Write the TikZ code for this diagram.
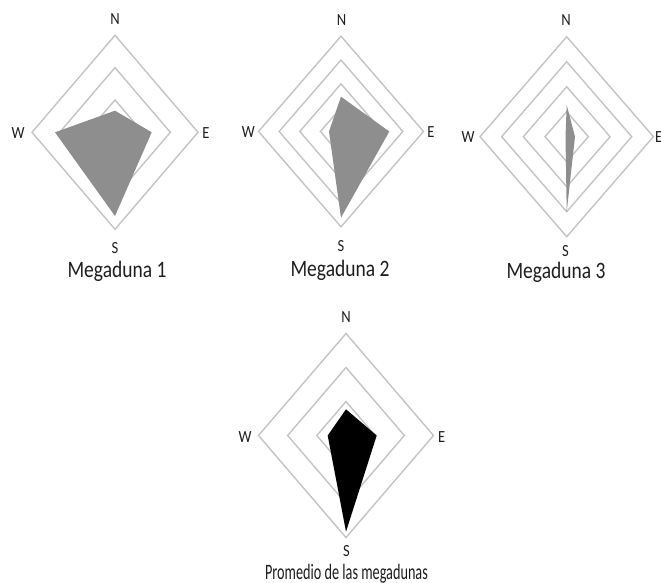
\documentclass[tikz,border=0pt]{standalone}
\usepackage{fontspec}
\setmainfont{Carlito}
\definecolor{ringgray}{HTML}{C4C4C4}
\definecolor{areagray}{HTML}{8E8E8E}
\definecolor{txtgray}{HTML}{1E1E1E}
\tikzset{
  ring/.style={draw=ringgray, line width=1.4pt, line join=miter},
  area/.style={fill=areagray},
  darea/.style={fill=black},
  dirlabel/.style={font=\fontsize{17}{19}\selectfont, text=txtgray, xscale=0.855, inner sep=0pt},
  charttitle/.style={font=\fontsize{23.5}{27}\selectfont, text=txtgray, xscale=0.83, inner sep=0pt, anchor=base}
}
\begin{document}
\begin{tikzpicture}[x=1pt,y=-1pt]
\clip (0,0) rectangle (661,583);
\fill[white] (0,0) rectangle (661,583);

% ---- Chart 1 ----
\foreach \f in {0.3333,0.6667,1}
  \draw[ring] (115,{132.3-97*\f}) -- ({115+83*\f},132.3) -- (115,{132.3+97*\f}) -- ({115-83*\f},132.3) -- cycle;
\fill[area] (115,110.7) -- (151.7,132.3) -- (115,216) -- (55,132.3) -- cycle;
\node[dirlabel] (n1) at (115,19) {N};
\node[dirlabel] (e1) at (206,133) {E};
\node[dirlabel] (s1) at (115,248) {S};
\node[dirlabel] (w1) at (18,133) {W};
\node[charttitle] (t1) at (117,277) {Megaduna 1};

% ---- Chart 2 ----
\foreach \f in {0.25,0.5,0.75,1}
  \draw[ring] (341,{131.5-95.3*\f}) -- ({341+82.5*\f},131.5) -- (341,{131.5+95.3*\f}) -- ({341-82.5*\f},131.5) -- cycle;
\fill[area] (341,96.7) -- (389.3,131.5) -- (341,217.7) -- (329,131.5) -- cycle;
\node[dirlabel] (n2) at (341.5,20.5) {N};
\node[dirlabel] (e2) at (431,132.5) {E};
\node[dirlabel] (s2) at (341,246.5) {S};
\node[dirlabel] (w2) at (248.3,132.5) {W};
\node[charttitle] (t2) at (340,276.5) {Megaduna 2};

% ---- Chart 3 ----
\foreach \f in {0.25,0.5,0.75,1}
  \draw[ring] (566.7,{136.7-100*\f}) -- ({566.7+86.7*\f},136.7) -- (566.7,{136.7+100*\f}) -- ({566.7-86.7*\f},136.7) -- cycle;
\fill[area] (566.7,105) -- (575,136.7) -- (566.7,211.7) -- (565.5,136.7) -- cycle;
\node[dirlabel] (n3) at (566,20.5) {N};
\node[dirlabel, anchor=west] (e3) at (655,136.7) {E};
\node[dirlabel] (s3) at (565.5,251.5) {S};
\node[dirlabel] (w3) at (468,136.7) {W};
\node[charttitle] (t3) at (556,278.5) {Megaduna 3};

% ---- Chart 4 ----
\foreach \f in {0.3333,0.6667,1}
  \draw[ring] (346,{435.5-102*\f}) -- ({346+87.5*\f},435.5) -- (346,{435.5+102*\f}) -- ({346-87.5*\f},435.5) -- cycle;
\fill[darea] (346,409.3) -- (376.7,435.5) -- (346,531.7) -- (327.7,435.5) -- cycle;
\node[dirlabel] (n4) at (346,317.3) {N};
\node[dirlabel] (e4) at (441.7,437.5) {E};
\node[dirlabel] (s4) at (346.5,551.5) {S};
\node[dirlabel] (w4) at (245,437.5) {W};
\node[charttitle, font=\fontsize{22}{25}\selectfont, xscale=0.78] (t4) at (346.5,579) {Promedio de las megadunas};
\end{tikzpicture}
\end{document}
